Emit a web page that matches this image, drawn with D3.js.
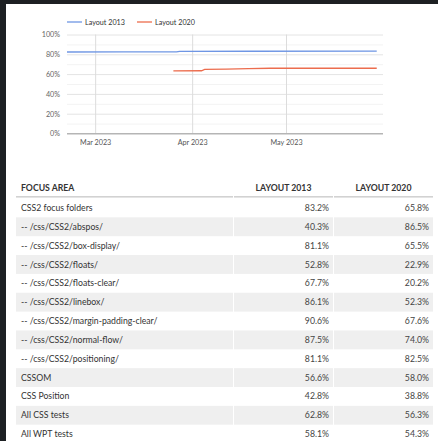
<!DOCTYPE html>
<html>
<head>
<meta charset="utf-8">
<script src="https://cdn.jsdelivr.net/npm/d3@7"></script>
<style>
  html, body { margin: 0; padding: 0; background: #1d2023; }
  svg { display: block; font-family: Lato, "Open Sans", sans-serif; }
</style>
</head>
<body>
<svg id="chart" width="438" height="441"></svg>
<script>
// series names
const seriesNames = ['Layout 2013', 'Layout 2020']
const seriesColors = ['#6f96e4', '#ec6c4d']
// line data (dates + percent)
const dates2013 = ['2023-02-20', '2023-03-10', '2023-03-27', '2023-03-28', '2023-04-20', '2023-05-30']
const values2013 = [82.3, 82.4, 82.4, 83.0, 83.1, 83.2]
const dates2020 = ['2023-03-26', '2023-04-04', '2023-04-05', '2023-04-12', '2023-04-19', '2023-04-26', '2023-05-30']
const values2020 = [63.2, 63.4, 64.7, 65.1, 65.5, 65.9, 65.9]
// axis ticks
const monthTicks = ['2023-03-01', '2023-04-01', '2023-05-01']
const yTicks = [0, 20, 40, 60, 80, 100]
const yMinor = [10, 30, 50, 70, 90]
// table
const tableHeaders = ['FOCUS AREA', 'LAYOUT 2013', 'LAYOUT 2020']
const focusAreas = [
  'CSS2 focus folders',
  '-- /css/CSS2/abspos/',
  '-- /css/CSS2/box-display/',
  '-- /css/CSS2/floats/',
  '-- /css/CSS2/floats-clear/',
  '-- /css/CSS2/linebox/',
  '-- /css/CSS2/margin-padding-clear/',
  '-- /css/CSS2/normal-flow/',
  '-- /css/CSS2/positioning/',
  'CSSOM',
  'CSS Position',
  'All CSS tests',
  'All WPT tests'
]
const layout2013 = [83.2, 40.3, 81.1, 52.8, 67.7, 86.1, 90.6, 87.5, 81.1, 56.6, 42.8, 62.8, 58.1]
const layout2020 = [65.8, 86.5, 65.5, 22.9, 20.2, 52.3, 67.6, 74.0, 82.5, 58.0, 38.8, 56.3, 54.3]

function draw() {
  const svg = d3.select('#chart')
  const parse = d3.timeParse('%Y-%m-%d')

  // white card
  svg.append('rect').attr('x', 6).attr('y', 4).attr('width', 432).attr('height', 437).attr('fill', '#fff')

  // plot area
  const plot = {left: 67, right: 383, top: 34.5, bottom: 133.5}
  const x = d3.scaleTime()
    .domain([parse('2023-02-20'), parse('2023-06-01')])
    .range([plot.left, plot.right])
  const y = d3.scaleLinear().domain([0, 100]).range([plot.bottom, plot.top])

  // minor grid
  svg.append('g').attr('transform', `translate(${plot.left},0)`)
    .call(d3.axisLeft(y).tickValues(yMinor).tickSize(-(plot.right - plot.left)).tickFormat(''))
    .call(g => g.select('.domain').remove())
    .call(g => g.selectAll('line').attr('stroke', '#f3f3f3'))

  // y axis + major grid
  svg.append('g').attr('transform', `translate(${plot.left},0)`)
    .call(d3.axisLeft(y).tickValues(yTicks).tickSize(-(plot.right - plot.left)).tickPadding(7).tickFormat(d => d + '%'))
    .call(g => g.select('.domain').remove())
    .call(g => g.selectAll('line').attr('stroke', d => d === 0 ? '#b5b5b5' : '#e4e4e4'))
    .call(g => g.selectAll('text').attr('fill', '#666').attr('font-size', 7.2).attr('font-family', 'Lato'))

  // x axis + vertical grid
  svg.append('g').attr('transform', `translate(0,${plot.bottom})`)
    .call(d3.axisBottom(x).tickValues(monthTicks.map(parse)).tickSize(-(plot.bottom - plot.top)).tickPadding(6).tickFormat(d3.timeFormat('%b %Y')))
    .call(g => g.select('.domain').remove())
    .call(g => g.selectAll('line').attr('stroke', '#dcdcdc'))
    .call(g => g.selectAll('text').attr('fill', '#555').attr('font-size', 7.2).attr('font-family', 'Lato'))

  // baseline on top of vertical grid
  svg.append('line')
    .attr('x1', plot.left).attr('x2', plot.right)
    .attr('y1', y(0)).attr('y2', y(0))
    .attr('stroke', '#b5b5b5')

  // lines
  const series = [
    dates2013.map((d, i) => ({date: parse(d), value: values2013[i]})),
    dates2020.map((d, i) => ({date: parse(d), value: values2020[i]}))
  ]
  const line = d3.line().x(d => x(d.date)).y(d => y(d.value))
  svg.selectAll('path.series')
    .data(series)
    .enter()
    .append('path')
    .attr('class', 'series')
    .attr('d', line)
    .attr('fill', 'none')
    .attr('stroke', (d, i) => seriesColors[i])
    .attr('stroke-width', 1.3)

  // legend
  const legendX = [67, 137]
  const legend = svg.selectAll('g.legend')
    .data(seriesNames)
    .enter()
    .append('g')
    .attr('class', 'legend')
    .attr('transform', (d, i) => `translate(${legendX[i]},22)`)
  legend.append('line').attr('x1', 0).attr('x2', 15).attr('stroke', (d, i) => seriesColors[i]).attr('stroke-width', 1.3)
  legend.append('text').attr('x', 18).attr('dy', '0.35em')
    .attr('font-size', 7.2).attr('fill', '#333').text(d => d)

  // table
  const cols = [{x0: 16, x1: 233}, {x0: 234, x1: 333}, {x0: 334, x1: 433}]
  const rowTop = 198.5
  const rowH = 18.85
  const fs = 8.7

  // header
  svg.selectAll('text.th')
    .data(tableHeaders)
    .enter()
    .append('text')
    .attr('class', 'th')
    .attr('x', (d, i) => i === 0 ? cols[i].x0 + 5 : (cols[i].x0 + cols[i].x1) / 2)
    .attr('y', 188)
    .attr('dy', '0.35em')
    .attr('text-anchor', (d, i) => i === 0 ? 'start' : 'middle')
    .attr('font-size', fs)
    .attr('font-weight', 'bold')
    .attr('fill', '#333')
    .text(d => d)
  svg.selectAll('rect.thline')
    .data(cols)
    .enter()
    .append('rect')
    .attr('class', 'thline')
    .attr('x', d => d.x0).attr('width', d => d.x1 - d.x0)
    .attr('y', 196).attr('height', 1.6)
    .attr('fill', '#d2d2d2')

  const rows = svg.selectAll('g.row')
    .data(focusAreas)
    .enter()
    .append('g')
    .attr('class', 'row')
    .attr('transform', (d, i) => `translate(0,${rowTop + i * rowH})`)

  rows.filter((d, i) => i % 2 === 1)
    .selectAll('rect')
    .data(cols)
    .enter()
    .append('rect')
    .attr('x', d => d.x0).attr('width', d => d.x1 - d.x0)
    .attr('height', rowH)
    .attr('fill', '#efefef')

  rows.append('text')
    .attr('x', cols[0].x0 + 5)
    .attr('y', rowH / 2).attr('dy', '0.35em')
    .attr('font-size', fs).attr('fill', '#333')
    .text(d => d)
  rows.append('text')
    .attr('x', cols[1].x1 - 4)
    .attr('y', rowH / 2).attr('dy', '0.35em')
    .attr('text-anchor', 'end')
    .attr('font-size', fs).attr('fill', '#444')
    .text((d, i) => layout2013[i].toFixed(1) + '%')
  rows.append('text')
    .attr('x', cols[2].x1 - 4)
    .attr('y', rowH / 2).attr('dy', '0.35em')
    .attr('text-anchor', 'end')
    .attr('font-size', fs).attr('fill', '#444')
    .text((d, i) => layout2020[i].toFixed(1) + '%')
}

window.onload = draw
</script>
</body>
</html>
